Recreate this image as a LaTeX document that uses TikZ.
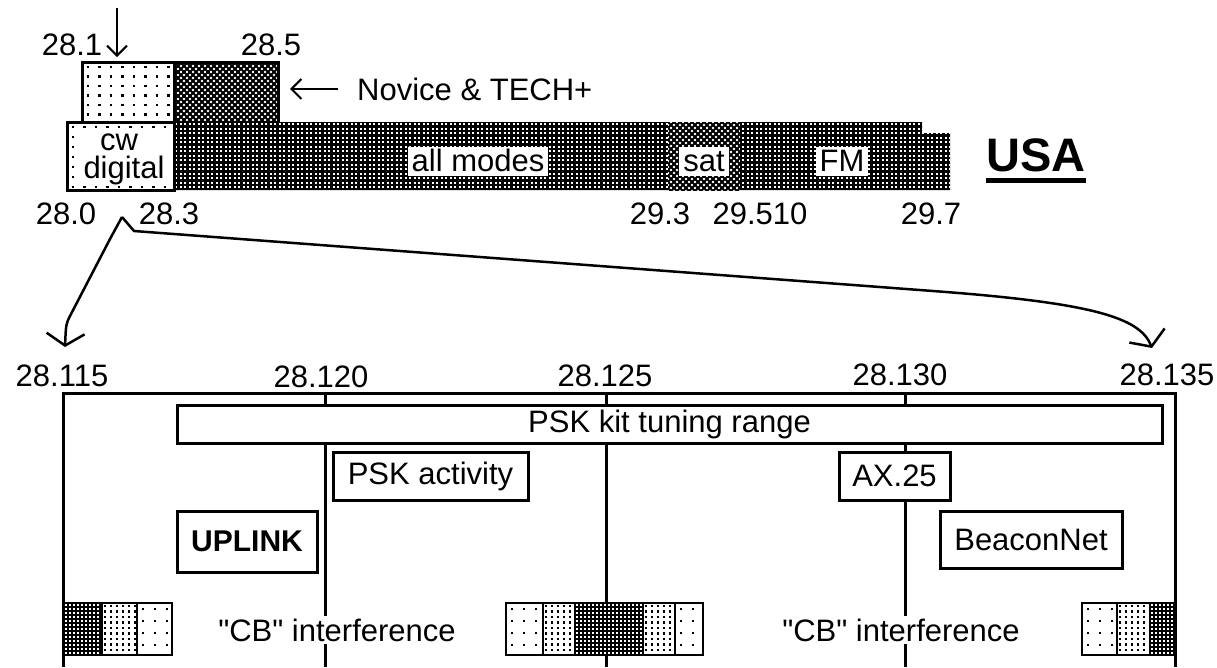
\documentclass[tikz,border=0pt]{standalone}
\usepackage{fontspec}
\setmainfont{Liberation Sans}[Ligatures=TeXOff]
\usetikzlibrary{arrows.meta}

% grid of square dots, drawn as dashed rows
\newcommand\dotgrid[8]{%
  \begin{scope}
    \clip (#1,#2) rectangle (#3,#4);
    \pgfmathtruncatemacro\dgn{(#4-#2)/#6}
    \pgfmathsetmacro\dgoff{#5-#7}
    \foreach \dgr in {0,...,\dgn}{
      \pgfmathsetmacro\dgy{#2+#6/2+\dgr*#6}
      \draw[#8, line width=#7pt, dash pattern=on #7pt off \dgoff pt]
        ({#1+(#5-#7)/2},\dgy) -- (#3,\dgy);
    }
  \end{scope}}
% fine crosshatch
\newcommand\xhatch[4]{%
  \begin{scope}
    \clip (#1,#2) rectangle (#3,#4);
    \pgfmathtruncatemacro\xhn{(#3-#1)/6+2}
    \foreach \xk in {-14,...,\xhn}{
      \draw[line width=1.8pt] ({#1+\xk*6},#2) -- ++(90,90);
      \draw[line width=1.8pt] ({#3-\xk*6},#2) -- ++(-90,90);
    }
  \end{scope}}
\newcommand\secdark[4]{\fill[black] (#1,#2) rectangle (#3,#4);\dotgrid{#1}{#2}{#3}{#4}{4}{4}{1.8}{white}}
\newcommand\secmid[4]{\dotgrid{#1}{#2}{#3}{#4}{6}{5.5}{2.5}{black}}
\newcommand\seclight[4]{\dotgrid{#1}{#2}{#3}{#4}{12}{12}{2.5}{black}}

\begin{document}
\begin{tikzpicture}[x=1pt,y=-1pt,
  every node/.style={font=\fontsize{31}{33}\selectfont, inner sep=0pt},
  txt/.style={anchor=base},
  lab/.style={fill=white, inner xsep=4pt, inner ysep=3pt, text height=22pt, text depth=1pt},
  box/.style={draw, line width=3pt, fill=white, inner sep=0pt},
  conn/.style={line width=2.5pt, line join=round, -{Straight Barb[length=12pt,width=38pt]}},
  smallarrow/.style={line width=2pt, -{Straight Barb[length=10pt,width=20pt]}},
  frameline/.style={line width=3pt},
  secborder/.style={line width=2.5pt},
]
\useasboundingbox (0,0) rectangle (1217,667);
\fill[white] (0,0) rectangle (1217,667);

% ---------------- top band ----------------
\dotgrid{82}{62}{174}{122}{11.5}{9.5}{2.5}{black}
\draw[line width=3pt] (82,62) rectangle (174,122);
\xhatch{174}{62}{278}{122}
\draw[line width=3pt] (174,62) rectangle (278,122);

\fill[black] (174,122) -- (922,122) -- (922,133) -- (950,133) -- (950,190) -- (174,190) -- cycle;
\dotgrid{174}{122}{950}{190}{4.5}{4.5}{1.8}{white}
\fill[white] (668,122) rectangle (740,190);
\xhatch{668}{122}{740}{190}

\dotgrid{67}{122}{174}{190}{11.5}{10}{2.5}{black}
\fill[white] (83,131) rectangle (171,185);
\draw[line width=3pt] (67,122) rectangle (174,190);
\node[txt] (cw) at (119,150) {cw};
\node[txt] (dig) at (124,178) {digital};

\node[lab] (allm) at (478,161) {all modes};
\node[lab] (sat) at (704,161) {sat};
\node[lab] (fm) at (842,161) {FM};

\node[txt, font=\fontsize{47}{50}\selectfont\bfseries] (usa) at (1036,171) {USA};
\draw[line width=5pt] ([yshift=-9pt]usa.base west) -- ([yshift=-9pt]usa.base east);

\node[txt] (f281) at (72,55) {28.1};
\node[txt] (f285) at (271,55) {28.5};
\node[txt] (f280) at (66,224) {28.0};
\node[txt] (f283) at (169,224) {28.3};
\node[txt] (f293) at (660,224) {29.3};
\node[txt] (f29510) at (760,224) {29.510};
\node[txt] (f297) at (931,224) {29.7};

\coordinate (dtop) at (117,8);
\coordinate (dtip) at (117,57);
\draw[smallarrow] (dtop) -- (dtip);

\node[txt, anchor=base west] (nov) at (357,100) {Novice \& TECH+};
\draw[smallarrow] ([xshift=-19pt]nov.west) -- ([xshift=-67pt]nov.west);

% ---------------- zoom connectors ----------------
\coordinate (peak) at (122,217);
\coordinate (tipL) at (65,347);
\coordinate (tipR) at (1152,348);
\draw[conn] (peak) -- (110,239) -- (70,316) .. controls (66,324) .. (tipL);
\draw[conn] (peak) -- (134,231) -- (400,251) -- (933,291) .. controls (1095,303) and (1140,318) .. (tipR);

% ---------------- lower scale ----------------
\node[txt] (l115) at (62,386) {28.115};
\node[txt] (l120) at (321,387) {28.120};
\node[txt] (l125) at (605,386) {28.125};
\node[txt] (l130) at (900,385) {28.130};
\node[txt] (l135) at (1167,385) {28.135};

\draw[frameline] (63,667) -- (63,393) -- (1175,393) -- (1175,667);
\draw[frameline] (325,393) -- (325,667);
\draw[frameline] (606,393) -- (606,667);
\draw[frameline] (905,393) -- (905,667);

\node[box, minimum width=985pt, minimum height=38pt] (kit) at (669.5,424) {PSK kit tuning range};
\node[box, minimum width=195pt, minimum height=48pt] (pska) at (430.5,476) {PSK activity};
\node[box, minimum width=111pt, minimum height=48pt] (ax25) at (894.5,476) {AX.25};
\node[box, minimum width=140pt, minimum height=61pt, font=\fontsize{30}{32}\selectfont\bfseries] (uplink) at (247,541.5) {UPLINK};
\node[box, minimum width=182pt, minimum height=57pt] (beacon) at (1031,539.5) {BeaconNet};

% bottom pattern blocks
\secdark{64}{603}{102}{655}
\secmid{102}{603}{137}{655}
\seclight{137}{603}{172}{655}
\draw[secborder] (64,603) rectangle (102,655) (102,603) rectangle (137,655) (137,603) rectangle (172,655);

\seclight{506}{603}{543}{655}
\secmid{543}{603}{575}{655}
\secdark{575}{603}{643}{655}
\secmid{643}{603}{675}{655}
\seclight{675}{603}{703}{655}
\draw[secborder] (506,603) rectangle (543,655) (543,603) rectangle (575,655) (575,603) rectangle (643,655) (643,603) rectangle (675,655) (675,603) rectangle (703,655);
\draw[frameline] (606,655) -- (606,667);

\seclight{1082}{603}{1117}{655}
\secmid{1117}{603}{1150}{655}
\secdark{1150}{603}{1175}{655}
\draw[secborder] (1082,603) rectangle (1117,655) (1117,603) rectangle (1150,655) (1150,603) rectangle (1175,655);

\node[txt, fill=white, inner sep=3pt] (cb1) at (337,641) {"CB" interference};
\node[txt, fill=white, inner sep=3pt] (cb2) at (901,641) {"CB" interference};
\end{tikzpicture}
\end{document}
